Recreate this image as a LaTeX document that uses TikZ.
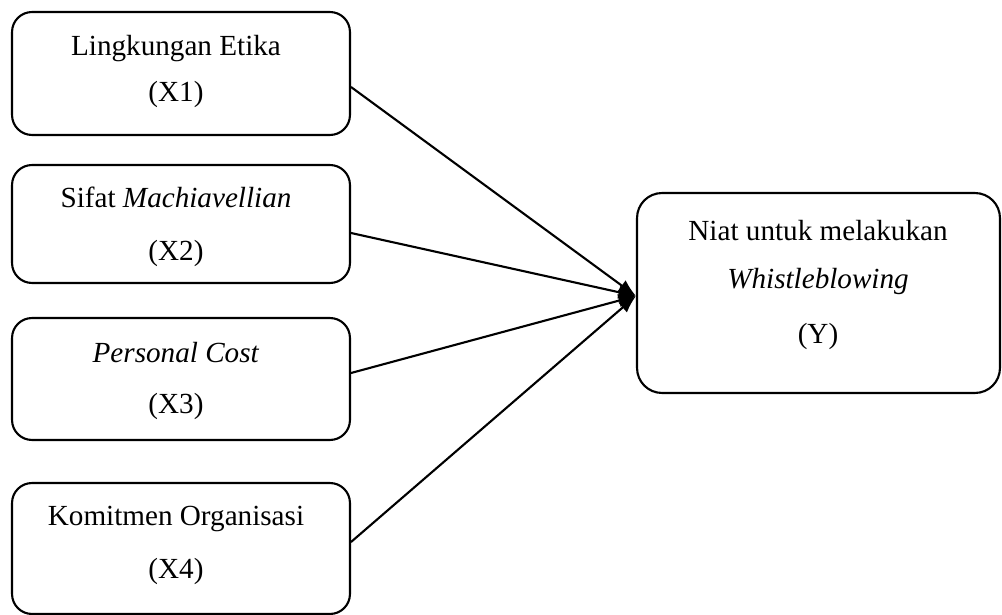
\documentclass[tikz,border=0pt]{standalone}
\usepackage{fontspec}
\setmainfont{Liberation Serif}
\usetikzlibrary{arrows.meta,calc}
\begin{document}
\begin{tikzpicture}[x=0.02cm,y=-0.02cm,
  varbox/.style={draw=black,line width=1.2pt,rounded corners=0.4cm,inner sep=0pt},
  ybox/.style={draw=black,line width=1.2pt,rounded corners=0.5cm,inner sep=0pt},
  txt/.style={anchor=base,inner sep=0pt,font=\fontsize{16.6}{20}\selectfont},
  link/.style={line width=1.2pt,-{Latex[length=10pt,width=7.5pt]}}]
\useasboundingbox (0,0) rectangle (1002,615);
% boxes
\node[varbox,minimum width=6.76cm,minimum height=2.46cm] (x1) at (181,73.5) {};
\node[varbox,minimum width=6.76cm,minimum height=2.36cm] (x2) at (181,224) {};
\node[varbox,minimum width=6.76cm,minimum height=2.44cm] (x3) at (181,379) {};
\node[varbox,minimum width=6.76cm,minimum height=2.62cm] (x4) at (181,548.5) {};
\node[ybox,minimum width=7.26cm,minimum height=4.0cm] (y) at (818.5,293) {};
% texts
\node[txt] (t1a) at (176,56) {Lingkungan Etika};
\node[txt] (t1b) at (176,102) {(X1)};
\node[txt] (t2a) at (176,208) {Sifat \textit{Machiavellian}};
\node[txt] (t2b) at (176,260) {(X2)};
\node[txt] (t3a) at (176,362) {\textit{Personal Cost}};
\node[txt] (t3b) at (176,413) {(X3)};
\node[txt] (t4a) at (176,525) {Komitmen Organisasi};
\node[txt] (t4b) at (176,578) {(X4)};
\node[txt] (tya) at (818,241) {Niat untuk melakukan};
\node[txt] (tyb) at (818,289) {\textit{Whistleblowing}};
\node[txt] (tyc) at (818,343) {(Y)};
% connectors
\coordinate (tip) at ($(y.west)+(0,3)$);
\draw[link] ($(x1.east)+(0,13.5)$) -- (tip);
\draw[link] ($(x2.east)+(0,9)$) -- (tip);
\draw[link] ($(x3.east)+(0,-6)$) -- (tip);
\draw[link] ($(x4.east)+(0,-6.5)$) -- (tip);
\end{tikzpicture}
\end{document}
